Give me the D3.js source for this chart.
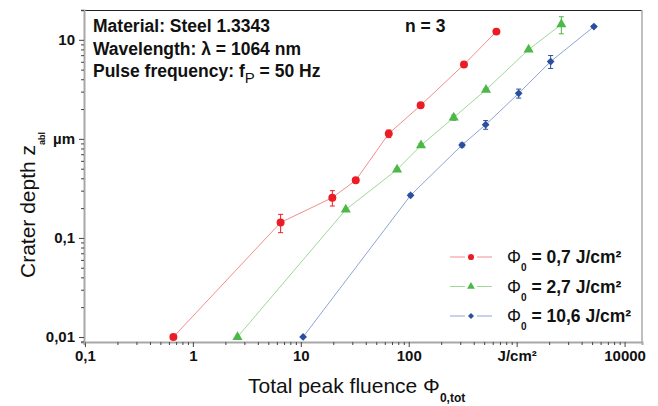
<!DOCTYPE html>
<html>
<head>
<meta charset="utf-8">
<script src="https://cdn.jsdelivr.net/npm/d3@7"></script>
<style>
  body { margin: 0; background: #fff; }
  svg { display: block; font-family: "Liberation Sans", Arial, sans-serif; }
</style>
</head>
<body>
<div id="chart"></div>
<script>
var width = 658,
    height = 406;

// crater depth data (x: J/cm², y: µm)
var redX   = [0.66, 6.5, 19.6, 32.3, 65.3, 129, 325, 649];
var redY   = [0.01, 0.143, 0.255, 0.382, 1.13, 2.18, 5.63, 12.1];
var redErr = [0, 0.03, 0.045, 0.008, 0.1, 0.06, 0.1, 0.2];

var greenX   = [2.59, 26.1, 78, 130, 261, 520, 1291, 2594];
var greenY   = [0.01, 0.193, 0.49, 0.86, 1.64, 3.13, 7.98, 14.3];
var greenErr = [0, 0.004, 0.01, 0.04, 0.1, 0.08, 0.2, 2.8];

var blueX   = [10.5, 104, 312, 516, 1044, 2065, 5200];
var blueY   = [0.01, 0.269, 0.867, 1.39, 2.88, 6.04, 13.6];
var blueErr = [0, 0.008, 0.04, 0.14, 0.3, 0.9, 0.3];

var seriesNames = ["0,7 J/cm²", "2,7 J/cm²", "10,6 J/cm²"];

var xLabels = {"0.1": "0,1", "1": "1", "10": "10", "100": "100", "1000": "J/cm²", "10000": "10000"};
var yLabels = {"0.01": "0,01", "0.1": "0,1", "1": "µm", "10": "10"};

var series = [
  {name: seriesNames[0], xs: redX, ys: redY, err: redErr, color: "#ec1c24", line: "#f28e8e", shape: d3.symbolCircle, size: 50, rot: 0},
  {name: seriesNames[1], xs: greenX, ys: greenY, err: greenErr, color: "#4cb848", line: "#9fd898", shape: d3.symbolTriangle, size: 44, rot: 0},
  {name: seriesNames[2], xs: blueX, ys: blueY, err: blueErr, color: "#2a4f9f", line: "#8ea4d6", shape: d3.symbolSquare, size: 30, rot: 45}
];

var x = d3.scaleLog().domain([0.098, 14500]).range([84, 642]);
var y = d3.scaleLog().domain([0.0089, 20]).range([342, 10]);

var svg = d3.select("#chart").append("svg")
    .attr("width", width)
    .attr("height", height);

// log tick positions 1..9 per decade
function logTicks(scale) {
  var d = scale.domain(), out = [];
  for (var k = -3; k <= 5; k++) {
    for (var m = 1; m <= 9; m++) {
      var v = m * Math.pow(10, k);
      if (v >= d[0] && v <= d[1]) out.push(+v.toPrecision(3));
    }
  }
  return out;
}
function isMajor(v) {
  var l = Math.log10(v);
  return Math.abs(l - Math.round(l)) < 1e-6;
}

// frame (top black, right grey)
svg.append("line")
  .attr("x1", 84).attr("x2", 642).attr("y1", 10.5).attr("y2", 10.5)
  .style("stroke", "#222").style("stroke-width", 1);
svg.append("line")
  .attr("x1", 642).attr("x2", 642).attr("y1", 10).attr("y2", 342)
  .style("stroke", "#aaa").style("stroke-width", 1.5);

// axes
var xAxis = d3.axisBottom(x)
    .tickValues(logTicks(x))
    .tickSize(3)
    .tickFormat(function(d) { return isMajor(d) ? (xLabels[String(d)] || "") : ""; });

var gx = svg.append("g")
    .attr("transform", "translate(0,342)")
    .call(xAxis);

var yAxis = d3.axisLeft(y)
    .tickValues(logTicks(y))
    .tickSize(3)
    .tickFormat(function(d) { return isMajor(d) ? (yLabels[String(d)] || "") : ""; });

var gy = svg.append("g")
    .attr("transform", "translate(84,0)")
    .call(yAxis);

[gx, gy].forEach(function(g) {
  g.select(".domain").style("stroke", "#a8a8a8").style("stroke-width", 2);
  g.selectAll(".tick line").style("stroke", "#444").style("stroke-width", 1);
  g.selectAll(".tick text")
    .style("font-family", "Liberation Sans, Arial, sans-serif")
    .style("font-size", "15px")
    .style("font-weight", "bold")
    .style("fill", "#111");
});
gx.selectAll(".tick").filter(isMajor).select("line").attr("y2", 5);
gx.selectAll(".tick text").attr("y", 8);
gy.selectAll(".tick").filter(isMajor).select("line").attr("x2", -5);
gy.selectAll(".tick text").attr("x", -9);

// axis titles
var xt = svg.append("text")
    .attr("x", 248).attr("y", 393)
    .style("font-size", "21px")
    .style("fill", "#111");
xt.append("tspan").text("Total peak fluence Φ");
xt.append("tspan").attr("dy", 9).style("font-size", "12px").style("font-weight", "bold").text("0,tot");

var yt = svg.append("text")
    .attr("transform", "translate(35,278) rotate(-90)")
    .style("font-size", "21px")
    .style("fill", "#111");
yt.append("tspan").text("Crater depth z");
yt.append("tspan").attr("dy", 10).style("font-size", "9px").style("font-weight", "bold").text("abl");

// series: lines, error bars, markers
var line = d3.line()
    .x(function(d) { return x(d[0]); })
    .y(function(d) { return y(d[1]); });

series.forEach(function(s) {
  var pts = s.xs.map(function(v, i) { return [v, s.ys[i], s.err[i]]; });
  var g = svg.append("g");

  g.append("path")
    .datum(pts)
    .attr("d", line)
    .style("fill", "none")
    .style("stroke", s.line)
    .style("stroke-width", 1);

  var eb = g.selectAll(".err")
    .data(pts.filter(function(d) { return d[2] > 0; }))
    .enter().append("g").attr("class", "err");
  eb.append("line")
    .attr("x1", function(d) { return x(d[0]); })
    .attr("x2", function(d) { return x(d[0]); })
    .attr("y1", function(d) { return y(d[1] + d[2]); })
    .attr("y2", function(d) { return y(Math.max(d[1] - d[2], 1e-4)); })
    .style("stroke", s.color).style("stroke-width", 1);
  [1, -1].forEach(function(sign) {
    eb.append("line")
      .attr("x1", function(d) { return x(d[0]) - 2.5; })
      .attr("x2", function(d) { return x(d[0]) + 2.5; })
      .attr("y1", function(d) { return y(d[1] + sign * d[2]); })
      .attr("y2", function(d) { return y(d[1] + sign * d[2]); })
      .style("stroke", s.color).style("stroke-width", 1);
  });

  g.selectAll(".pt")
    .data(pts)
    .enter().append("path")
    .attr("class", "pt")
    .attr("transform", function(d) { return "translate(" + x(d[0]) + "," + y(d[1]) + ") rotate(" + s.rot + ")"; })
    .attr("d", d3.symbol().type(s.shape).size(s.size))
    .style("fill", s.color);
});

// annotation text
var notes = svg.append("g")
    .style("font-size", "17.5px")
    .style("font-weight", "bold")
    .style("fill", "#111");
notes.append("text").attr("x", 93).attr("y", 32).text("Material: Steel 1.3343");
notes.append("text").attr("x", 93).attr("y", 55).text("Wavelength: λ = 1064 nm");
var pf = notes.append("text").attr("x", 93).attr("y", 77);
pf.append("tspan").text("Pulse frequency: f");
pf.append("tspan").attr("dy", 6).style("font-size", "15px").style("font-weight", "normal").text("P");
pf.append("tspan").attr("dy", -6).text(" = 50 Hz");
notes.append("text").attr("x", 405).attr("y", 32).text("n = 3");

// legend
var legend = svg.append("g")
    .selectAll("g")
    .data(series)
    .enter().append("g")
    .attr("transform", function(d, i) { return "translate(0," + (257 + i * 29.5) + ")"; });

legend.append("line")
  .attr("x1", 450).attr("x2", 465).attr("y1", 0).attr("y2", 0)
  .style("stroke", function(d) { return d.line; });
legend.append("line")
  .attr("x1", 477).attr("x2", 492).attr("y1", 0).attr("y2", 0)
  .style("stroke", function(d) { return d.line; });
legend.append("path")
  .attr("transform", function(d) { return "translate(471,0) rotate(" + d.rot + ")"; })
  .attr("d", function(d) { return d3.symbol().type(d.shape).size(d.size * 0.6)(); })
  .style("fill", function(d) { return d.color; });

var lt = legend.append("text")
    .attr("x", 507).attr("y", 6)
    .style("font-size", "17.5px")
    .style("font-weight", "bold")
    .style("fill", "#111");
lt.append("tspan").style("font-weight", "normal").text("Φ");
lt.append("tspan").attr("dy", 8).style("font-size", "10px").text("0");
lt.append("tspan").attr("dy", -8).text(function(d) { return " = " + d.name; });
</script>
</body>
</html>
